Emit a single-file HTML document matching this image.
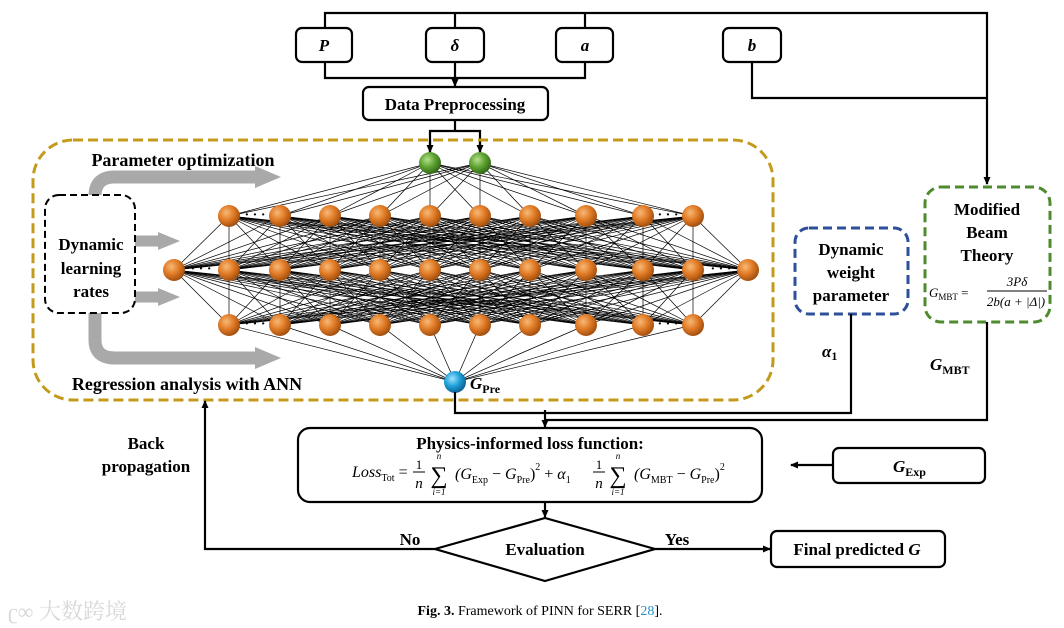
<!DOCTYPE html>
<html><head><meta charset="utf-8">
<style>
html,body{margin:0;padding:0;background:#fff;}
svg{display:block;}
text{font-family:"Liberation Serif","Noto Serif CJK SC",serif;}
.b{font-weight:bold;}
</style></head>
<body>
<svg id="s" width="1064" height="628" viewBox="0 0 1064 628" xmlns="http://www.w3.org/2000/svg">
<defs>
<marker id="ar" markerWidth="8" markerHeight="8" refX="7" refY="4" orient="auto" markerUnits="userSpaceOnUse">
<path d="M0,0.5 L8,4 L0,7.5 z" fill="#000"/></marker>
<radialGradient id="og" cx="0.38" cy="0.35" r="0.7">
<stop offset="0" stop-color="#f7b977"/><stop offset="0.5" stop-color="#e07a25"/><stop offset="1" stop-color="#9a4a0c"/></radialGradient>
<radialGradient id="gg" cx="0.38" cy="0.35" r="0.7">
<stop offset="0" stop-color="#b4e08a"/><stop offset="0.5" stop-color="#5ea232"/><stop offset="1" stop-color="#2f6316"/></radialGradient>
<radialGradient id="bg" cx="0.38" cy="0.35" r="0.7">
<stop offset="0" stop-color="#9fe4ff"/><stop offset="0.5" stop-color="#1d9fd8"/><stop offset="1" stop-color="#0a5a8a"/></radialGradient>
</defs>

<g stroke="#000" stroke-width="2.2" fill="none">
<polyline points="325,28 325,13 987,13 987,184" marker-end="url(#ar)"/>
<line x1="455" y1="13" x2="455" y2="28"/>
<line x1="585" y1="13" x2="585" y2="28"/>
<polyline points="325,62 325,78 585,78 585,62"/>
<line x1="455" y1="62" x2="455" y2="86" marker-end="url(#ar)"/>
<polyline points="752,62 752,98 987,98"/>
<line x1="455" y1="120" x2="455" y2="131"/>
<polyline points="430,153 430,131 480,131 480,153"/>
<line x1="430" y1="140" x2="430" y2="152" marker-end="url(#ar)"/>
<line x1="480" y1="140" x2="480" y2="152" marker-end="url(#ar)"/>
<rect x="296" y="28" width="56" height="34" rx="6" fill="#fff"/>
<rect x="426" y="28" width="58" height="34" rx="6" fill="#fff"/>
<rect x="556" y="28" width="57" height="34" rx="6" fill="#fff"/>
<rect x="723" y="28" width="58" height="34" rx="6" fill="#fff"/>
<rect x="363" y="87" width="185" height="33" rx="6" fill="#fff"/>
</g>
<g class="b" font-size="17" text-anchor="middle" font-style="italic">
<text x="324" y="51" class="b">P</text>
<text x="455" y="51" class="b">δ</text>
<text x="585" y="51" class="b">a</text>
<text x="752" y="51" class="b">b</text>
</g>
<text x="455" y="110" class="b" font-size="17" text-anchor="middle">Data Preprocessing</text>

<rect x="33" y="140" width="740" height="260" rx="40" fill="none" stroke="#c49a1c" stroke-width="3" stroke-dasharray="10,5"/>

<g fill="none" stroke="#a9a9a9" stroke-width="13">
<path d="M95,200 L95,196 Q95,177 115,177 L258,177"/>
<path d="M95,312 L95,340 Q95,358 115,358 L258,358"/>
<line x1="135" y1="241" x2="160" y2="241" stroke-width="11"/>
<line x1="135" y1="297" x2="160" y2="297" stroke-width="11"/>
</g>
<g fill="#a9a9a9">
<polygon points="255,166 281,177 255,188"/>
<polygon points="255,347 281,358 255,369"/>
<polygon points="158,232 180,241 158,250"/>
<polygon points="158,288 180,297 158,306"/>
</g>
<rect x="45" y="195" width="90" height="118" rx="14" fill="#fff" stroke="#000" stroke-width="2" stroke-dasharray="7,4"/>
<g class="b" font-size="17" text-anchor="middle">
<text x="91" y="250">Dynamic</text>
<text x="91" y="274">learning</text>
<text x="91" y="297">rates</text>
<text x="183" y="166" font-size="18">Parameter optimization</text>
<text x="187" y="390" font-size="18">Regression analysis with ANN</text>
</g>

<g id="net"></g>

<text x="470" y="389" class="b" font-size="17" font-style="italic">G<tspan font-size="12" dy="4" font-style="normal">Pre</tspan></text>

<rect x="795" y="228" width="113" height="86" rx="14" fill="none" stroke="#2e4f9a" stroke-width="3" stroke-dasharray="9,5"/>
<g class="b" font-size="17" text-anchor="middle">
<text x="851" y="255">Dynamic</text>
<text x="851" y="278">weight</text>
<text x="851" y="301">parameter</text>
</g>
<rect x="925" y="187" width="125" height="135" rx="16" fill="none" stroke="#4f8a2e" stroke-width="3" stroke-dasharray="9,5"/>
<g class="b" font-size="17" text-anchor="middle">
<text x="987" y="215">Modified</text>
<text x="987" y="238">Beam</text>
<text x="987" y="261">Theory</text>
</g>
<text x="929" y="297" font-size="13" font-style="italic">G<tspan font-size="9" dy="3" font-style="normal">MBT</tspan><tspan dy="-3" font-style="normal"> =</tspan></text>
<line x1="987" y1="291" x2="1047" y2="291" stroke="#000" stroke-width="1"/>
<text x="1017" y="286" font-size="13" text-anchor="middle" font-style="italic">3Pδ</text>
<text x="1016" y="306" font-size="13" text-anchor="middle" font-style="italic">2b(a + |Δ|)</text>

<g stroke="#000" stroke-width="2.2" fill="none">
<polyline points="455,392 455,413 851,413 851,314"/>
<polyline points="987,322 987,420 545,420"/>
<line x1="545" y1="410" x2="545" y2="427" marker-end="url(#ar)"/>
<rect x="298" y="428" width="464" height="74" rx="12" fill="#fff"/>
<rect x="833" y="448" width="152" height="35" rx="6" fill="#fff"/>
<line x1="833" y1="465" x2="791" y2="465" marker-end="url(#ar)"/>
<line x1="545" y1="502" x2="545" y2="517" marker-end="url(#ar)"/>
<polygon points="435,549 545,518 655,549 545,581" fill="#fff"/>
<polyline points="435,549 205,549 205,401" marker-end="url(#ar)"/>
<line x1="655" y1="549" x2="770" y2="549" marker-end="url(#ar)"/>
<rect x="771" y="531" width="174" height="36" rx="6" fill="#fff"/>
</g>
<text x="822" y="357" font-size="17" font-style="italic" class="b">α<tspan font-size="12" dy="3" font-style="normal">1</tspan></text>
<text x="930" y="370" font-size="17" font-style="italic" class="b">G<tspan font-size="12" dy="4" font-style="normal">MBT</tspan></text>
<text x="893" y="472" font-size="17" font-style="italic" class="b">G<tspan font-size="12" dy="4" font-style="normal">Exp</tspan></text>

<text x="530" y="449" class="b" font-size="17" text-anchor="middle">Physics-informed loss function:</text>
<g font-size="16" font-style="italic">
<text x="352" y="477">Loss<tspan font-size="10" dy="4" font-style="normal">Tot</tspan><tspan dy="-4" font-style="normal"> =</tspan></text>
<text x="419" y="469" font-size="13" font-style="normal" text-anchor="middle">1</text>
<line x1="413" y1="472" x2="425" y2="472" stroke="#000" stroke-width="1"/>
<text x="419" y="488" font-size="15" text-anchor="middle">n</text>
<text x="439" y="483" font-size="24" font-style="normal" text-anchor="middle">∑</text>
<text x="439" y="459" font-size="9" text-anchor="middle">n</text>
<text x="439" y="495" font-size="9" text-anchor="middle">i=1</text>
<text x="455" y="479">(G<tspan font-size="10" dy="4" font-style="normal">Exp</tspan><tspan dy="-4" font-style="normal"> − </tspan>G<tspan font-size="10" dy="4" font-style="normal">Pre</tspan><tspan dy="-4" font-style="normal">)</tspan><tspan font-size="10" dy="-9" font-style="normal">2</tspan><tspan dy="9" font-style="normal"> + </tspan>α<tspan font-size="10" dy="4" font-style="normal">1</tspan></text>
<text x="599" y="469" font-size="13" font-style="normal" text-anchor="middle">1</text>
<line x1="593" y1="472" x2="605" y2="472" stroke="#000" stroke-width="1"/>
<text x="599" y="488" font-size="15" text-anchor="middle">n</text>
<text x="618" y="483" font-size="24" font-style="normal" text-anchor="middle">∑</text>
<text x="618" y="459" font-size="9" text-anchor="middle">n</text>
<text x="618" y="495" font-size="9" text-anchor="middle">i=1</text>
<text x="634" y="479">(G<tspan font-size="10" dy="4" font-style="normal">MBT</tspan><tspan dy="-4" font-style="normal"> − </tspan>G<tspan font-size="10" dy="4" font-style="normal">Pre</tspan><tspan dy="-4" font-style="normal">)</tspan><tspan font-size="10" dy="-9" font-style="normal">2</tspan></text>
</g>

<g class="b" font-size="17" text-anchor="middle">
<text x="545" y="555">Evaluation</text>
<text x="410" y="545">No</text>
<text x="677" y="545">Yes</text>
<text x="857" y="555">Final predicted <tspan font-style="italic">G</tspan></text>
<text x="146" y="449">Back</text>
<text x="146" y="472">propagation</text>
</g>

<text x="540" y="615" font-size="14" text-anchor="middle"><tspan font-weight="bold">Fig. 3.</tspan> Framework of PINN for SERR [<tspan fill="#2a8fc7">28</tspan>].</text>
<text x="8" y="619" font-size="22" fill="#d8d8d8" font-family="'Liberation Sans','Noto Sans CJK SC',sans-serif">ʗ∞ 大数跨境</text>
</svg>
<script>
(function(){
var g=document.getElementById("net");
var xs=[229,280,330,380,430,480,530,586,643,693];
var mid=[174].concat(xs).concat([748]);
var L=[[430,480].map(function(x){return[x,163]}),xs.map(function(x){return[x,216]}),mid.map(function(x){return[x,270]}),xs.map(function(x){return[x,325]}),[[455,382]]];
var lines="";
for(var l=0;l<L.length-1;l++)for(var i=0;i<L[l].length;i++)for(var j=0;j<L[l+1].length;j++){
var a=L[l][i],b=L[l+1][j];lines+='<line x1="'+a[0]+'" y1="'+a[1]+'" x2="'+b[0]+'" y2="'+b[1]+'"/>';}
var h='<g stroke="#000" stroke-width="0.7">'+lines+'</g>';
function c(x,y,f,r){return '<circle cx="'+x+'" cy="'+y+'" r="'+r+'" fill="url(#'+f+')"/>';}
L[0].forEach(function(p){h+=c(p[0],p[1],"gg",11)});
[1,2,3].forEach(function(l){L[l].forEach(function(p){h+=c(p[0],p[1],"og",11)})});
h+=c(455,382,"bg",11);
var d='<g font-size="14" font-weight="bold" text-anchor="middle">';
[[255,216],[668,216],[255,325],[668,325],[201,270],[721,270]].forEach(function(p){d+='<text x="'+p[0]+'" y="'+(p[1]+3)+'">· · ·</text>'});
h+=d+'</g>';
g.innerHTML=h;
})();
</script>
</body></html>
